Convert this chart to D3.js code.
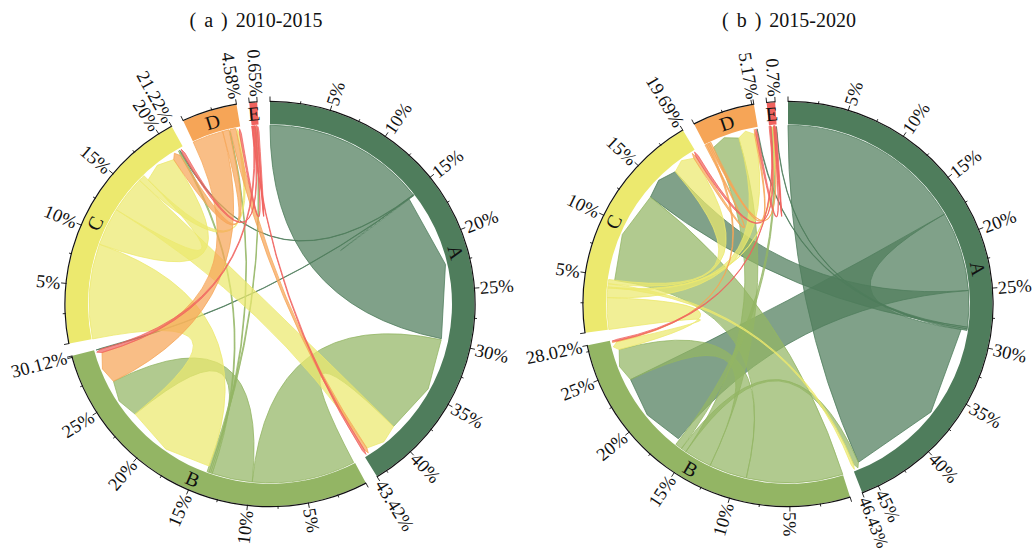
<!DOCTYPE html>
<html>
<head>
<meta charset="utf-8">
<script src="https://cdn.jsdelivr.net/npm/d3@7"></script>
<style>
	body { margin: 0; background: #fff; }
	text { font-family: "Liberation Serif", serif; fill: #111; }
</style>
</head>
<body>
<script>
(function() {

"use strict";

const SECTORS = ["A", "B", "C", "D", "E"];

const COLORS = ["#4f7d5c", "#93b564", "#ece96e", "#f6a557", "#f0625e"];

const SIZES_2010 = [43.42, 30.12, 21.22, 4.58, 0.65];
const SIZES_2015 = [46.43, 28.02, 19.69, 5.17, 0.7];

// source, from, to, target, from, to (all in % along the sector)
const LINKS_2010 = [
	["A", 0, 15.3, "A", 15.4, 29.7],
	["A", 15.3, 15.35, "C", 20.75, 20.85],
	["A", 15.35, 15.4, "B", 30.05, 30.12],
	["B", 0.1, 9.8, "A", 29.8, 39.5],
	["B", 9.8, 13.6, "B", 22.9, 26.7],
	["B", 13.6, 13.75, "C", 20.6, 20.75],
	["B", 13.75, 13.9, "D", 3.5, 3.6],
	["B", 13.9, 14.1, "E", 0.32, 0.38],
	["C", 0, 9, "B", 14.1, 22.9],
	["C", 9, 12.6, "C", 16.7, 19.85],
	["C", 12.6, 16.1, "A", 39.5, 42.8],
	["C", 16.1, 16.7, "D", 4.15, 4.4],
	["D", 0, 2.9, "B", 26.7, 29.7],
	["D", 2.9, 3.5, "C", 19.85, 20.6],
	["D", 3.6, 4.15, "A", 42.8, 43.1],
	["E", 0, 0.06, "A", 43.1, 43.3],
	["E", 0.06, 0.16, "B", 29.7, 30.05],
	["E", 0.16, 0.26, "C", 20.85, 21.1],
	["E", 0.26, 0.32, "D", 4.4, 4.58],
	["E", 0.38, 0.5, "E", 0.5, 0.65],
];

const LINKS_2015 = [
	["A", 0, 17.5, "A", 28.8, 45.7],
	["A", 17.5, 25.05, "B", 16.5, 23.9],
	["A", 25.05, 28.5, "C", 13.57, 17],
	["A", 28.5, 28.65, "D", 5.05, 5.12],
	["A", 28.65, 28.8, "E", 0.66, 0.7],
	["B", 0, 9.05, "C", 4.7, 13.57],
	["B", 9.05, 12.6, "B", 23.9, 27],
	["B", 12.6, 15.2, "D", 0.6, 3.2],
	["B", 15.2, 15.7, "A", 45.7, 46.2],
	["B", 15.7, 16.35, "E", 0.18, 0.3],
	["C", 0, 3, "B", 27, 27.8],
	["C", 3, 3.9, "D", 3.2, 4.75],
	["C", 3.9, 4, "E", 0.3, 0.36],
	["C", 4, 4.3, "A", 46.2, 46.43],
	["C", 4.3, 4.7, "C", 17, 19.2],
	["D", 0, 0.15, "C", 19.2, 19.45],
	["D", 0.15, 0.3, "B", 27.8, 27.87],
	["D", 0.3, 0.42, "E", 0.36, 0.42],
	["D", 0.42, 0.6, "D", 4.75, 4.88],
	["E", 0, 0.12, "C", 19.45, 19.69],
	["E", 0.12, 0.18, "B", 27.87, 28.02],
	["E", 0.42, 0.46, "D", 4.88, 5.05],
	["E", 0.46, 0.55, "E", 0.55, 0.66],
];

const TITLES = ["( a ) 2010-2015", "( b ) 2015-2020"];

const GAP = 3.6;
const R_OUTER = 204.5;
const R_INNER = 182;
const R_LINK = 181;
const R_CORNER = 175;
const R_MID = 180;
const R_LABEL = R_OUTER + 6;
const TICK_FONT = 18.5;
const BOTTOM_LIMIT = 547;
const SQUASH = 0.988; // the source figure is a little wider than tall
const rad = Math.PI / 180;

const svg = d3.select("body").append("svg")
	.attr("width", 1034)
	.attr("height", 552);

function point(angle, r) {
	return [r * Math.sin(angle), -r * Math.cos(angle)];
}

function sectorScales(sizes) {
	let unit = (360 - GAP * sizes.length) / d3.sum(sizes);
	let start = 0;
	return sizes.map(size => {
		let end = start + size * unit;
		let scale = d3.scaleLinear().domain([0, size]).range([start * rad, end * rad]);
		start = end + GAP;
		return scale;
	});
}

function linkPath(link, scales) {
	let [source, s0, s1, target, t0, t1] = link;
	let a = scales[SECTORS.indexOf(source)];
	let b = scales[SECTORS.indexOf(target)];
	let path = d3.path();

	path.moveTo(...point(a(s0), R_LINK));
	path.arc(0, 0, R_LINK, a(s0) - Math.PI / 2, a(s1) - Math.PI / 2);
	path.quadraticCurveTo(0, 0, ...point(b(t0), R_CORNER));
	// the target end of every ribbon is a coarse three point polygon in the original
	path.lineTo(...point(b((t0 + t1) / 2), R_MID));
	path.lineTo(...point(b(t1), R_CORNER));
	path.quadraticCurveTo(0, 0, ...point(a(s0), R_LINK));
	path.closePath();
	return path.toString();
}

function drawChord(options) {
	let scales = sectorScales(options.sizes);

	svg.append("text")
		.attr("x", options.titleX)
		.attr("y", 27)
		.attr("text-anchor", "middle")
		.attr("font-size", 20)
		.attr("word-spacing", 3)
		.text(options.title);

	let g = svg.append("g")
		.attr("transform", `translate(${options.cx}, ${options.cy}) scale(1, ${SQUASH})`);

	g.append("g").selectAll("path")
		.data(options.links)
		.join("path")
			.attr("d", d => linkPath(d, scales))
			.attr("fill", d => COLORS[SECTORS.indexOf(d[0])])
			.attr("fill-opacity", 0.72)
			.attr("stroke", d => COLORS[SECTORS.indexOf(d[0])])
			.attr("stroke-opacity", 0.85)
			.attr("stroke-width", 0.9);

	let arc = d3.arc().innerRadius(R_INNER).outerRadius(R_OUTER);

	options.sizes.forEach((size, i) => {
		let scale = scales[i];
		let [a0, a1] = scale.range();
		let sector = g.append("g");

		sector.append("path")
			.attr("d", arc({startAngle: a0, endAngle: a1}))
			.attr("fill", COLORS[i]);

		// the black rim along the outside of the sector
		sector.append("path")
			.attr("d", d3.arc()({innerRadius: R_OUTER, outerRadius: R_OUTER + 1.2, startAngle: a0, endAngle: a1}))
			.attr("fill", "#111");

		let minor = d3.range(0, size, 2.5);
		let ticks = minor.concat([size]).map(value => {
			return {
				value,
				major: value % 5 === 0 || value === size,
			};
		});

		sector.selectAll("line")
			.data(ticks)
			.join("line")
				.attr("x1", d => point(scale(d.value), R_OUTER)[0])
				.attr("y1", d => point(scale(d.value), R_OUTER)[1])
				.attr("x2", d => point(scale(d.value), R_OUTER + (d.major ? 5.5 : 3))[0])
				.attr("y2", d => point(scale(d.value), R_OUTER + (d.major ? 5.5 : 3))[1])
				.attr("stroke", "#111")
				.attr("stroke-width", 0.9);

		let labels = ticks.filter(d => d.major && d.value > 0 && (d.value === size || size - d.value >= 1));

		sector.selectAll("text.tick")
			.data(labels)
			.join("text")
				.attr("class", "tick")
				.attr("font-size", TICK_FONT)
				.attr("dy", "0.35em")
				.attr("text-anchor", d => scale(d.value) < Math.PI ? "start" : "end")
				.attr("transform", d => {
					let deg = scale(d.value) / rad;
					let flip = deg < 180 ? "" : " rotate(180)";
					return `rotate(${deg - 90}) translate(${R_LABEL}, 0)${flip}`;
				})
				.text(d => `${d.value}%`)
				.each(function(d) {
					// a long label pointing down has to stay above the bottom of the page
					let down = -Math.cos(scale(d.value)) * SQUASH;
					if (down <= 0)
						return;
					let room = (BOTTOM_LIMIT - options.cy) / down - R_LABEL;
					let length = this.getComputedTextLength();
					if (length > room)
						d3.select(this).attr("font-size", TICK_FONT * room / length);
				});

		let midDeg = (a0 + a1) / 2 / rad;
		let turn = midDeg > 90 && midDeg < 270 ? midDeg - 180 : midDeg;
		let [lx, ly] = point((a0 + a1) / 2, (R_INNER + R_OUTER) / 2);

		sector.append("text")
			.attr("font-size", 20)
			.attr("dy", "0.35em")
			.attr("text-anchor", "middle")
			.attr("transform", `translate(${lx}, ${ly}) rotate(${turn})`)
			.text(SECTORS[i]);
	});
}

drawChord({
	cx: 270,
	cy: 304,
	titleX: 256,
	title: TITLES[0],
	sizes: SIZES_2010,
	links: LINKS_2010,
});

drawChord({
	cx: 788,
	cy: 304,
	titleX: 789,
	title: TITLES[1],
	sizes: SIZES_2015,
	links: LINKS_2015,
});

})();
</script>
</body>
</html>
